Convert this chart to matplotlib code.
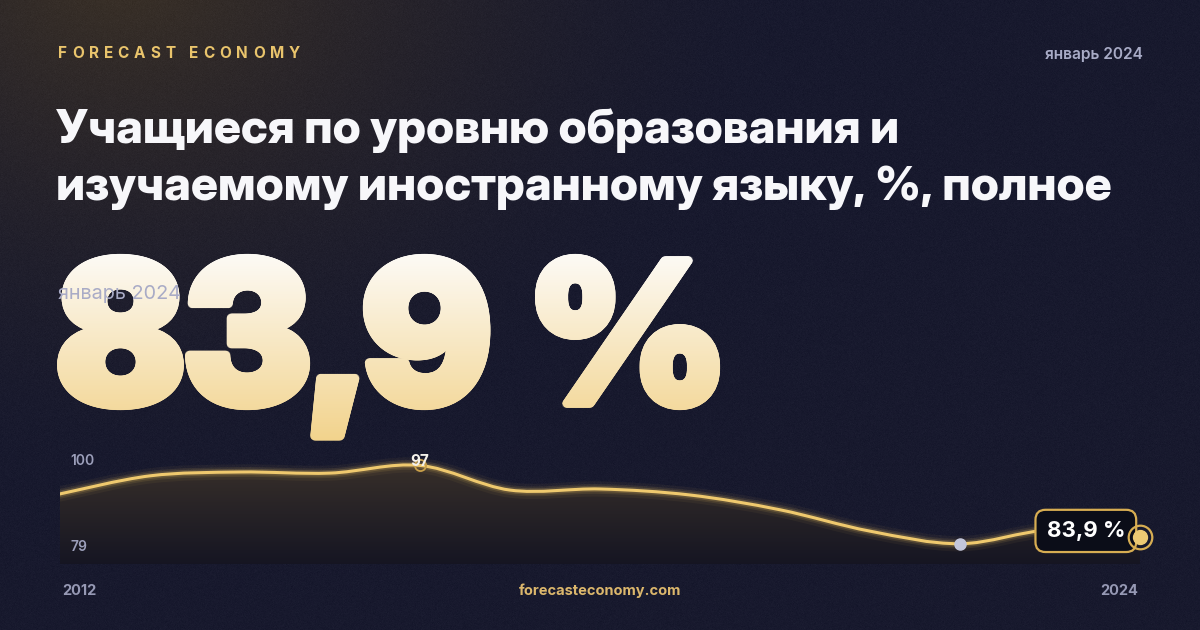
import numpy as np
import matplotlib
matplotlib.use('Agg')
import matplotlib.pyplot as plt
from matplotlib.path import Path
from matplotlib.patches import PathPatch
from matplotlib.patheffects import AbstractPathEffect
from matplotlib.transforms import TransformedPath, Affine2D

# data
years = [2012, 2013, 2014, 2015, 2016, 2017, 2018, 2019, 2020, 2021, 2022, 2023, 2024]
values = [91.8, 95.1, 95.8, 95.6, 97.0, 92.5, 92.7, 91.6, 88.9, 85.0, 82.7, 85.2, 83.9]
y_ticks = [100, 79]
x_labels = ['2012', '2024']
brand = 'FORECAST ECONOMY'
period = 'январь 2024'
title_lines = ['Учащиеся по уровню образования и',
               'изучаемому иностранному языку, %, полное']
big_value = '83,9 %'
site = 'forecasteconomy.com'

W, H = 1200, 630
GOLD = '#e9c46c'
FONT = ['Inter', 'DejaVu Sans']
DISPLAY = ['Inter Display', 'Inter', 'DejaVu Sans']


class GradientFill(AbstractPathEffect):
    """fill a text path with a vertical colour gradient, slightly emboldened"""

    def __init__(self, top, bottom, grow=0.0):
        super().__init__()
        self.top = np.array(matplotlib.colors.to_rgb(top))
        self.bottom = np.array(matplotlib.colors.to_rgb(bottom))
        self.grow = grow

    def draw_path(self, renderer, gc, tpath, affine, rgbFace=None):
        g = self.grow
        bb = tpath.get_extents(affine)
        x0, y0 = int(np.floor(bb.x0 - g)) - 1, int(np.floor(bb.y0 - g)) - 1
        w = int(np.ceil(bb.x1 + g)) - x0 + 2
        h = int(np.ceil(bb.y1 + g)) - y0 + 2
        # row 0 is the bottom of the image here
        t = np.linspace(1, 0, h)[:, None, None]
        rgb = self.top + t * (self.bottom - self.top)
        rgb = np.repeat(rgb, w, axis=1)
        im = np.concatenate([rgb, np.ones((h, w, 1))], axis=2)
        im = (im * 255).astype(np.uint8)
        offsets = [(0.0, 0.0)]
        if g > 0:
            for rad, n in [(g, 20), (g * 0.5, 10)]:
                for a in np.linspace(0, 2 * np.pi, n, endpoint=False):
                    offsets.append((rad * np.cos(a), rad * np.sin(a)))
        for dx, dy in offsets:
            gc0 = renderer.new_gc()
            gc0.copy_properties(gc)
            gc0.set_clip_path(TransformedPath(tpath, affine + Affine2D().translate(dx, dy)))
            renderer.draw_image(gc0, x0, y0, im)
            gc0.restore()


fig = plt.figure(figsize=(W / 100, H / 100), dpi=100)

# background in pixel coordinates (y down)
bg = fig.add_axes([0, 0, 1, 1])
bg.set_xlim(0, W)
bg.set_ylim(H, 0)
bg.axis('off')

yy, xx = np.mgrid[0:H, 0:W]
base = np.array([0.094, 0.100, 0.180])
img = np.ones((H, W, 3)) * base
r = np.sqrt(((xx - 120) / 1.3) ** 2 + (yy + 40) ** 2)
warm = np.clip(1 - r / 520, 0, 1) ** 1.6
img = img + warm[..., None] * (np.array([0.235, 0.195, 0.150]) - base)
img = img + np.random.default_rng(1).normal(0, 0.006, (H, W, 1))
bg.imshow(np.clip(img, 0, 1), extent=(0, W, H, 0), aspect='auto', zorder=0)

# header
renderer = fig.canvas.get_renderer()
x = 58
for ch in brand:
    if ch == ' ':
        x += 9
        continue
    t = bg.text(x, 53, ch, color=GOLD, fontsize=11, fontweight='bold',
                family=FONT, va='center', ha='left')
    x += t.get_window_extent(renderer).width + 4.9

bg.text(1143, 54, period, color='#a8abc6', fontsize=11.2, fontweight='semibold',
        family=FONT, va='center', ha='right')

bg.text(56, 143, title_lines[0], color='#f7f7fa', fontsize=34, fontweight=800,
        family=DISPLAY, va='baseline', ha='left')
bg.text(56, 200, title_lines[1], color='#f7f7fa', fontsize=34, fontweight=800,
        family=DISPLAY, va='baseline', ha='left')

# big number with vertical gradient
bg.text(57, 404, big_value, fontsize=142.5, fontweight=900, family=DISPLAY,
        va='baseline', ha='left', zorder=2,
        path_effects=[GradientFill('#fdfbf7', '#f2d38c', grow=3.8)])

bg.text(58, 294, period, color='#a9abc6', fontsize=14.3, family=FONT,
        va='center', ha='left', zorder=3)

# footer
bg.text(62, 591, x_labels[0], color='#9699b4', fontsize=10.5, fontweight='bold',
        family=FONT, va='center', ha='left')
bg.text(1138, 591, x_labels[1], color='#9699b4', fontsize=10.5, fontweight='bold',
        family=FONT, va='center', ha='right')
bg.text(600, 591, site, color='#dcb76c', fontsize=10.5, fontweight='bold',
        family=FONT, va='center', ha='center')

# chart
ax = fig.add_axes([60 / W, (H - 564) / H, 1080 / W, 115 / H])
ax.set_xlim(years[0], years[-1])
ax.set_ylim(79, 100)
ax.axis('off')
ax.patch.set_alpha(0)


def smooth_path(xs, ys, close_to=None):
    verts = [(xs[0], ys[0])]
    codes = [Path.MOVETO]
    n = len(xs)
    for i in range(n - 1):
        x0, y0 = (xs[i - 1], ys[i - 1]) if i > 0 else (xs[i], ys[i])
        x3, y3 = (xs[i + 2], ys[i + 2]) if i + 2 < n else (xs[i + 1], ys[i + 1])
        c1 = (xs[i] + (xs[i + 1] - x0) / 6, ys[i] + (ys[i + 1] - y0) / 6)
        c2 = (xs[i + 1] - (x3 - xs[i]) / 6, ys[i + 1] - (y3 - ys[i]) / 6)
        verts += [c1, c2, (xs[i + 1], ys[i + 1])]
        codes += [Path.CURVE4] * 3
    if close_to is not None:
        verts += [(xs[-1], close_to), (xs[0], close_to), (xs[0], ys[0])]
        codes += [Path.LINETO, Path.LINETO, Path.CLOSEPOLY]
    return Path(verts, codes)


area = PathPatch(smooth_path(years, values, close_to=79), facecolor='none',
                 edgecolor='none')
ax.add_patch(area)
fg = np.linspace(0, 1, 256)[:, None]
f_top = np.array([0.245, 0.205, 0.170])
f_bot = np.array([0.085, 0.085, 0.135])
fimg = f_top + (fg ** 0.9)[..., None] * (f_bot - f_top)
fimg = np.repeat(fimg, 2, axis=1)
fi = ax.imshow(fimg, extent=(years[0], years[-1], 79, 100), aspect='auto',
               zorder=1)
fi.set_clip_path(area)

line = smooth_path(years, values)
for lw, a in [(11, 0.05), (7, 0.10), (4.5, 0.18)]:
    ax.add_patch(PathPatch(line, facecolor='none', edgecolor='#f2c862',
                           lw=lw, alpha=a, zorder=3, capstyle='round'))
ax.add_patch(PathPatch(line, facecolor='none', edgecolor='#efc96e', lw=2.2,
                       zorder=4, capstyle='round'))

tick_pos = {100: 0.896, 79: 0.148}
for v in y_ticks:
    ax.text(0.0095, tick_pos[v], str(v), transform=ax.transAxes,
            color='#9c9fba', fontsize=10, fontweight='semibold', family=FONT,
            va='center', ha='left', zorder=5)

imax = int(np.argmax(values))
imin = int(np.argmin(values))
ax.plot(years[imax], values[imax], 'o', ms=8, mfc='none', mec='#c9a04a', mew=1.3,
        zorder=5)
ax.annotate(f'{values[imax]:.0f}', (years[imax], values[imax]), xytext=(0, 3),
            textcoords='offset points', color='#f4f1ea', fontsize=11,
            fontweight='bold', family=FONT, ha='center', va='center', zorder=6)
ax.plot(years[imin], values[imin], 'o', ms=8, color='#c3c6da', zorder=5)

# last value label
ax.annotate(big_value, (years[-1], values[-1]), xytext=(-39, 4.5),
            textcoords='offset points', color='white', fontsize=16,
            fontweight='bold', family=FONT, ha='center', va='center', zorder=8,
            bbox=dict(boxstyle='round,pad=0.5,rounding_size=0.45',
                      fc='#0b0d18', ec='#d7ad52', lw=1.6))
ax.plot(years[-1], values[-1], 'o', ms=17, mfc='none', mec='#d7ad52', mew=1.6,
        zorder=9, clip_on=False)
ax.plot(years[-1], values[-1], 'o', ms=10, color='#ecc973', zorder=9, clip_on=False)

fig.savefig('out.png', dpi=100)
